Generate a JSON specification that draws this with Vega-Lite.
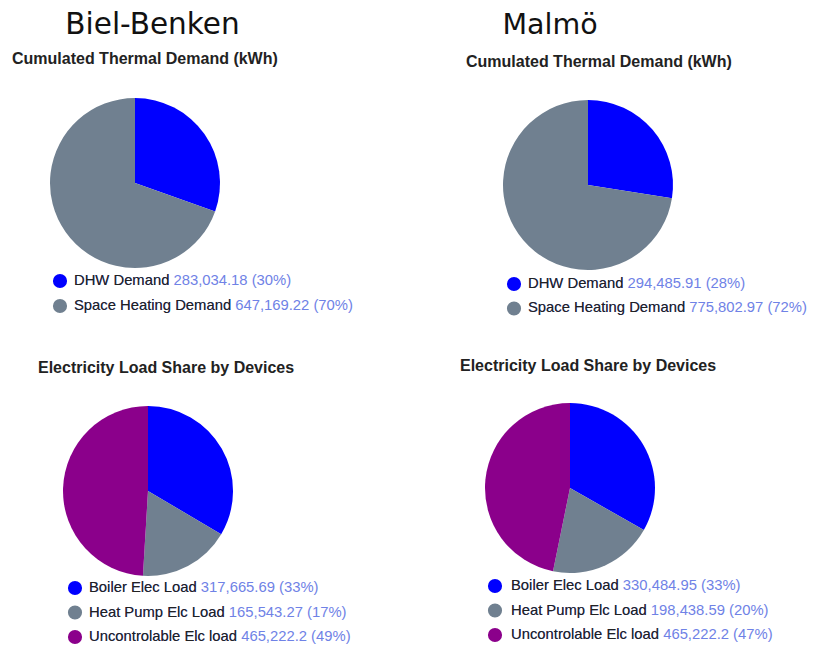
{
  "$schema": "https://vega.github.io/schema/vega-lite/v6.json",
  "padding": {"left": 12, "top": 0, "right": 5, "bottom": 5},
  "background": "white",
  "columns": 2,
  "align": "each",
  "bounds": "flush",
  "spacing": {"row": 0, "column": 230},
  "config": {
    "view": {"stroke": null},
    "text": {"font": "Liberation Sans"},
    "title": {"font": "Liberation Sans", "fontSize": 16, "fontWeight": "bold", "color": "#222222", "anchor": "start", "frame": "group", "baseline": "middle"}
  },
  "datasets": {
    "d": [
      {"city": "Biel-Benken", "chart": "thermal", "category": "DHW Demand", "value": 283034.18},
      {"city": "Biel-Benken", "chart": "thermal", "category": "Space Heating Demand", "value": 647169.22},
      {"city": "Biel-Benken", "chart": "elec", "category": "Boiler Elec Load", "value": 317665.69},
      {"city": "Biel-Benken", "chart": "elec", "category": "Heat Pump Elc Load", "value": 165543.27},
      {"city": "Biel-Benken", "chart": "elec", "category": "Uncontrolable Elc load", "value": 465222.2},
      {"city": "Malmö", "chart": "thermal", "category": "DHW Demand", "value": 294485.91},
      {"city": "Malmö", "chart": "thermal", "category": "Space Heating Demand", "value": 775802.97},
      {"city": "Malmö", "chart": "elec", "category": "Boiler Elec Load", "value": 330484.95},
      {"city": "Malmö", "chart": "elec", "category": "Heat Pump Elc Load", "value": 198438.59},
      {"city": "Malmö", "chart": "elec", "category": "Uncontrolable Elc load", "value": 465222.2}
    ],
    "cities": [{"city": "Biel-Benken"}, {"city": "Malmö"}],
    "none": []
  },
  "concat": [
    {
      "width": 205, "height": 98,
      "data": {"name": "cities"},
      "transform": [{"filter": "datum.city === 'Biel-Benken'"}],
      "mark": {"type": "text", "font": "DejaVu Sans", "fontSize": 29.5, "color": "#111111", "dy": -24.5},
      "encoding": {"text": {"field": "city"}}
    },
    {
      "width": 130, "height": 98,
      "data": {"name": "cities"},
      "transform": [{"filter": "datum.city === 'Malmö'"}],
      "mark": {"type": "text", "font": "DejaVu Sans", "fontSize": 28.5, "color": "#111111", "dy": -24.5},
      "encoding": {"text": {"field": "city"}}
    },
    {
      "width": 170, "height": 170,
      "title": {"text": "Cumulated Thermal Demand (kWh)", "dx": -38, "offset": 31},
      "data": {"name": "d"},
      "transform": [{"filter": "datum.city === 'Biel-Benken' && datum.chart === 'thermal'"}],
      "mark": {"type": "arc", "radius": 85},
      "encoding": {
        "theta": {"field": "value", "type": "quantitative", "stack": true},
        "color": {"field": "category", "type": "nominal", "legend": null,
          "scale": {"domain": ["DHW Demand", "Space Heating Demand", "Boiler Elec Load", "Heat Pump Elc Load", "Uncontrolable Elc load"], "range": ["#0000ff", "#708090", "#0000ff", "#708090", "#8b008b"]}}
      }
    },
    {
      "width": 206, "height": 174,
      "title": {"text": "Cumulated Thermal Demand (kWh)", "dx": -19, "offset": 28},
      "data": {"name": "d"},
      "transform": [{"filter": "datum.city === 'Malmö' && datum.chart === 'thermal'"}],
      "mark": {"type": "arc", "radius": 85},
      "encoding": {
        "theta": {"field": "value", "type": "quantitative", "stack": true},
        "color": {"field": "category", "type": "nominal", "legend": null,
          "scale": {"domain": ["DHW Demand", "Space Heating Demand", "Boiler Elec Load", "Heat Pump Elc Load", "Uncontrolable Elc load"], "range": ["#0000ff", "#708090", "#0000ff", "#708090", "#8b008b"]}}
      }
    },
    {
      "width": 100, "height": 43,
      "data": {"name": "d"},
      "transform": [
        {"filter": "datum.city === 'Biel-Benken' && datum.chart === 'thermal'"},
        {"joinaggregate": [{"op": "sum", "field": "value", "as": "total"}]},
        {"calculate": "datum.category + ' ' + format(datum.value, ',.2~f') + ' (' + format(datum.value / datum.total, '.0%') + ')'", "as": "label"}
      ],
      "encoding": {
        "y": {"field": "category", "type": "nominal", "axis": null, "scale": {"type": "point", "padding": 0.36}}
      },
      "layer": [
        {"mark": {"type": "point", "filled": true, "shape": "circle", "size": 200, "opacity": 1},
         "encoding": {"x": {"value": 10},
           "color": {"field": "category", "type": "nominal", "legend": null,
             "scale": {"domain": ["DHW Demand", "Space Heating Demand", "Boiler Elec Load", "Heat Pump Elc Load", "Uncontrolable Elc load"], "range": ["#0000ff", "#708090", "#0000ff", "#708090", "#8b008b"]}}}},
        {"mark": {"type": "text", "align": "left", "fontSize": 14.8, "color": "#6f82e6"},
         "encoding": {"x": {"value": 24}, "text": {"field": "label"}}},
        {"mark": {"type": "text", "align": "left", "fontSize": 14.8, "color": "#222222"},
         "encoding": {"x": {"value": 24}, "text": {"field": "category"}}}
      ]
    },
    {
      "width": 100, "height": 48.5,
      "data": {"name": "d"},
      "transform": [
        {"filter": "datum.city === 'Malmö' && datum.chart === 'thermal'"},
        {"joinaggregate": [{"op": "sum", "field": "value", "as": "total"}]},
        {"calculate": "datum.category + ' ' + format(datum.value, ',.2~f') + ' (' + format(datum.value / datum.total, '.0%') + ')'", "as": "label"}
      ],
      "encoding": {
        "y": {"field": "category", "type": "nominal", "axis": null, "scale": {"type": "point", "padding": 0.49}}
      },
      "layer": [
        {"mark": {"type": "point", "filled": true, "shape": "circle", "size": 200, "opacity": 1},
         "encoding": {"x": {"value": 29},
           "color": {"field": "category", "type": "nominal", "legend": null,
             "scale": {"domain": ["DHW Demand", "Space Heating Demand", "Boiler Elec Load", "Heat Pump Elc Load", "Uncontrolable Elc load"], "range": ["#0000ff", "#708090", "#0000ff", "#708090", "#8b008b"]}}}},
        {"mark": {"type": "text", "align": "left", "fontSize": 14.8, "color": "#6f82e6"},
         "encoding": {"x": {"value": 43}, "text": {"field": "label"}}},
        {"mark": {"type": "text", "align": "left", "fontSize": 14.8, "color": "#222222"},
         "encoding": {"x": {"value": 43}, "text": {"field": "category"}}}
      ]
    },
    {
      "width": 10, "height": 81.5,
      "data": {"name": "none"},
      "mark": {"type": "point"}
    },
    {
      "width": 10, "height": 81.5,
      "data": {"name": "none"},
      "mark": {"type": "point"}
    },
    {
      "width": 196, "height": 176,
      "title": {"text": "Electricity Load Share by Devices", "dx": -12, "offset": 27},
      "data": {"name": "d"},
      "transform": [{"filter": "datum.city === 'Biel-Benken' && datum.chart === 'elec'"}],
      "mark": {"type": "arc", "radius": 85},
      "encoding": {
        "theta": {"field": "value", "type": "quantitative", "stack": true},
        "color": {"field": "category", "type": "nominal", "legend": null,
          "scale": {"domain": ["DHW Demand", "Space Heating Demand", "Boiler Elec Load", "Heat Pump Elc Load", "Uncontrolable Elc load"], "range": ["#0000ff", "#708090", "#0000ff", "#708090", "#8b008b"]}}
      }
    },
    {
      "width": 170, "height": 170,
      "title": {"text": "Electricity Load Share by Devices", "dx": -25, "offset": 29},
      "data": {"name": "d"},
      "transform": [{"filter": "datum.city === 'Malmö' && datum.chart === 'elec'"}],
      "mark": {"type": "arc", "radius": 85},
      "encoding": {
        "theta": {"field": "value", "type": "quantitative", "stack": true},
        "color": {"field": "category", "type": "nominal", "legend": null,
          "scale": {"domain": ["DHW Demand", "Space Heating Demand", "Boiler Elec Load", "Heat Pump Elc Load", "Uncontrolable Elc load"], "range": ["#0000ff", "#708090", "#0000ff", "#708090", "#8b008b"]}}
      }
    },
    {
      "width": 100, "height": 67,
      "data": {"name": "d"},
      "transform": [
        {"filter": "datum.city === 'Biel-Benken' && datum.chart === 'elec'"},
        {"joinaggregate": [{"op": "sum", "field": "value", "as": "total"}]},
        {"calculate": "datum.category + ' ' + format(datum.value, ',.2~f') + ' (' + format(datum.value / datum.total, '.0%') + ')'", "as": "label"}
      ],
      "encoding": {
        "y": {"field": "category", "type": "nominal", "axis": null, "scale": {"type": "point", "padding": 0.367}}
      },
      "layer": [
        {"mark": {"type": "point", "filled": true, "shape": "circle", "size": 200, "opacity": 1},
         "encoding": {"x": {"value": 25},
           "color": {"field": "category", "type": "nominal", "legend": null,
             "scale": {"domain": ["DHW Demand", "Space Heating Demand", "Boiler Elec Load", "Heat Pump Elc Load", "Uncontrolable Elc load"], "range": ["#0000ff", "#708090", "#0000ff", "#708090", "#8b008b"]}}}},
        {"mark": {"type": "text", "align": "left", "fontSize": 14.8, "color": "#6f82e6"},
         "encoding": {"x": {"value": 39}, "text": {"field": "label"}}},
        {"mark": {"type": "text", "align": "left", "fontSize": 14.8, "color": "#222222"},
         "encoding": {"x": {"value": 39}, "text": {"field": "category"}}}
      ]
    },
    {
      "width": 100, "height": 63,
      "data": {"name": "d"},
      "transform": [
        {"filter": "datum.city === 'Malmö' && datum.chart === 'elec'"},
        {"joinaggregate": [{"op": "sum", "field": "value", "as": "total"}]},
        {"calculate": "datum.category + ' ' + format(datum.value, ',.2~f') + ' (' + format(datum.value / datum.total, '.0%') + ')'", "as": "label"}
      ],
      "encoding": {
        "y": {"field": "category", "type": "nominal", "axis": null, "scale": {"type": "point", "padding": 0.286}}
      },
      "layer": [
        {"mark": {"type": "point", "filled": true, "shape": "circle", "size": 200, "opacity": 1},
         "encoding": {"x": {"value": 10},
           "color": {"field": "category", "type": "nominal", "legend": null,
             "scale": {"domain": ["DHW Demand", "Space Heating Demand", "Boiler Elec Load", "Heat Pump Elc Load", "Uncontrolable Elc load"], "range": ["#0000ff", "#708090", "#0000ff", "#708090", "#8b008b"]}}}},
        {"mark": {"type": "text", "align": "left", "fontSize": 14.8, "color": "#6f82e6"},
         "encoding": {"x": {"value": 26}, "text": {"field": "label"}}},
        {"mark": {"type": "text", "align": "left", "fontSize": 14.8, "color": "#222222"},
         "encoding": {"x": {"value": 26}, "text": {"field": "category"}}}
      ]
    }
  ]
}
